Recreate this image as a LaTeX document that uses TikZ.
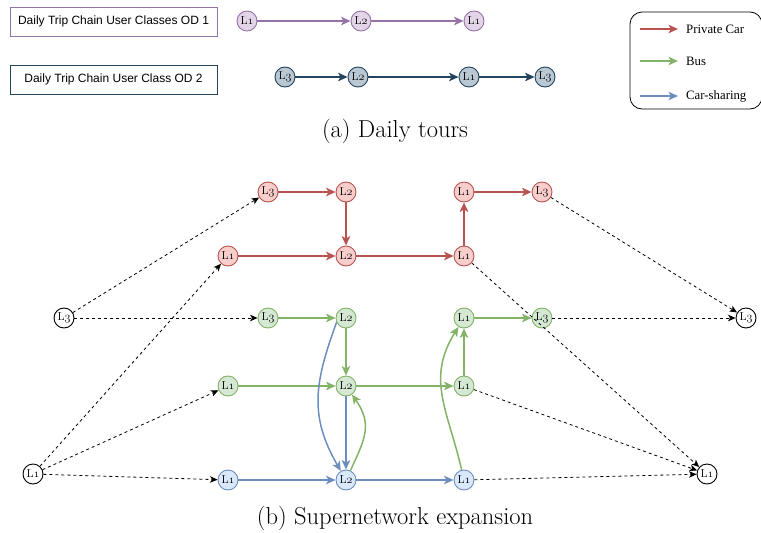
\documentclass[tikz,border=0pt]{standalone}
\usepackage{fontspec}
\usetikzlibrary{arrows.meta}
\newfontfamily\boxfont{Liberation Sans}
\newfontfamily\legfont{Liberation Serif}
\definecolor{rS}{HTML}{B85450}\definecolor{rF}{HTML}{F8CECC}
\definecolor{gS}{HTML}{82B366}\definecolor{gF}{HTML}{D5E8D4}
\definecolor{bS}{HTML}{6C8EBF}\definecolor{bF}{HTML}{DAE8FC}
\definecolor{pS}{HTML}{9673A6}\definecolor{pF}{HTML}{E1D5E7}
\definecolor{dS}{HTML}{23445D}\definecolor{dF}{HTML}{BAC8D3}
\newcommand{\Lab}[1]{L{\usefont{OML}{cmm}{m}{it}#1}}
\tikzset{
  loc/.style={circle,draw,line width=0.9pt,minimum size=20pt,inner sep=0pt,font=\fontsize{11.5}{11.5}\selectfont},
  rn/.style={loc,draw=rS,fill=rF},
  gn/.style={loc,draw=gS,fill=gF},
  bn/.style={loc,draw=bS,fill=bF},
  pn/.style={loc,draw=pS,fill=pF},
  dn/.style={loc,draw=dS,fill=dF},
  on/.style={loc,draw=black,fill=white},
  tipped/.style={-{Stealth[length=9.5pt,width=8.5pt,inset=2.5pt]}},
  re/.style={tipped,draw=rS,line width=1.5pt},
  ge/.style={tipped,draw=gS,line width=1.5pt},
  be/.style={tipped,draw=bS,line width=1.5pt},
  pe/.style={tipped,draw=pS,line width=1.5pt},
  de/.style={tipped,draw=dS,line width=1.5pt},
  dashedge/.style={draw=black,line width=0.8pt,dash pattern=on 3pt off 3pt,-{Stealth[length=7.5pt,width=6.5pt,inset=2pt]}},
  classbox/.style={draw,line width=0.8pt,minimum width=207pt,minimum height=29pt,inner sep=0pt,font=\boxfont\fontsize{12}{12}\selectfont},
  legtext/.style={anchor=west,font=\legfont\fontsize{12.8}{12.8}\selectfont,inner sep=0pt},
  captext/.style={font=\fontsize{24.5}{24.5}\selectfont,inner sep=0pt}
}
\begin{document}
\begin{tikzpicture}[x=1pt,y=-1pt]
\useasboundingbox (0,0) rectangle (761,533);
% top part
\node[classbox,draw=pS] (box1) at (113.5,21.5) {Daily Trip Chain User Classes OD 1};
\node[classbox,draw=dS] (box2) at (113.5,79.5) {Daily Trip Chain User Class OD 2};
\node[pn] (pa) at (247,21) {\Lab1};
\node[pn] (pb) at (361,21) {\Lab2};
\node[pn] (pc) at (474,21) {\Lab1};
\draw[pe] (pa) -- (pb);
\draw[pe] (pb) -- (pc);
\node[dn] (da) at (285,77) {\Lab3};
\node[dn] (db) at (358,77) {\Lab2};
\node[dn] (dc) at (469,77) {\Lab1};
\node[dn] (dd) at (545,77) {\Lab3};
\draw[de] (da) -- (db);
\draw[de] (db) -- (dc);
\draw[de] (dc) -- (dd);
% legend
\node[draw=black,line width=0.8pt,rounded corners=12pt,minimum width=132pt,minimum height=97pt] (legend) at (696,60.5) {};
\coordinate (lr1) at (640,29); \coordinate (lr2) at (678,29);
\coordinate (lg1) at (640,61); \coordinate (lg2) at (678,61);
\coordinate (lb1) at (640,96); \coordinate (lb2) at (678,96);
\draw[re] (lr1) -- (lr2);
\draw[ge] (lg1) -- (lg2);
\draw[be] (lb1) -- (lb2);
\node[legtext] (t1) at (686,29) {Private Car};
\node[legtext] (t2) at (686,61) {Bus};
\node[legtext] (t3) at (686,96) {Car-sharing};
\node[captext] (capa) at (395,131) {(a) Daily tours};
% supernetwork
\node[rn] (r3) at (268,192) {\Lab3};
\node[rn] (r2t) at (346,192) {\Lab2};
\node[rn] (r1) at (228,256) {\Lab1};
\node[rn] (r2) at (346,256) {\Lab2};
\node[rn] (r1m) at (464,256) {\Lab1};
\node[rn] (r1t) at (464,192) {\Lab1};
\node[rn] (r3e) at (542,192) {\Lab3};
\node[gn] (g3) at (268,318) {\Lab3};
\node[gn] (g2t) at (346,318) {\Lab2};
\node[gn] (g1t) at (464,318) {\Lab1};
\node[gn] (g3e) at (542,318) {\Lab3};
\node[gn] (g1) at (228,386) {\Lab1};
\node[gn] (g2) at (346,386) {\Lab2};
\node[gn] (g1m) at (464,386) {\Lab1};
\node[bn] (b1) at (228,480) {\Lab1};
\node[bn] (b2) at (346,480) {\Lab2};
\node[bn] (b1e) at (464,480) {\Lab1};
\node[on] (o3) at (64,318) {\Lab3};
\node[on] (o1) at (33,474) {\Lab1};
\node[on] (e3) at (746,318) {\Lab3};
\node[on] (e1) at (707,474) {\Lab1};
% red
\draw[re] (r3) -- (r2t);
\draw[re] (r2t) -- (r2);
\draw[re] (r1) -- (r2);
\draw[re] (r2) -- (r1m);
\draw[re] (r1m) -- (r1t);
\draw[re] (r1t) -- (r3e);
% green
\draw[ge,line width=2.4pt] (g3) -- (g2t);
\draw[ge] (g2t) -- (g2);
\draw[ge] (g1) -- (g2);
\draw[ge] (g2) -- (g1m);
\draw[ge] (g1m) -- (g1t);
\draw[ge] (g1t) -- (g3e);
\draw[ge] (b2) to[out=65,in=-55,looseness=1.2] (g2);
\draw[ge] (b1e) to[out=103,in=238,looseness=1.1] (g1t);
% blue
\draw[be] (b1) -- (b2);
\draw[be] (b2) -- (b1e);
\draw[be] (g2) -- (b2);
\draw[be] (g2t.205) to[out=250,in=120,looseness=1.1] (b2);
% dashed
\draw[dashedge] (o3) -- (r3);
\draw[dashedge] (o3) -- (g3);
\draw[dashedge] (o1) -- (r1);
\draw[dashedge] (o1) -- (g1);
\draw[dashedge] (o1) -- (b1);
\draw[dashedge] (r3e) -- (e3);
\draw[dashedge] (g3e) -- (e3);
\draw[dashedge] (r1m) -- (e1);
\draw[dashedge] (g1m) -- (e1);
\draw[dashedge] (b1e) -- (e1);
\node[captext] (capb) at (395,518) {(b) Supernetwork expansion};
\end{tikzpicture}
\end{document}
